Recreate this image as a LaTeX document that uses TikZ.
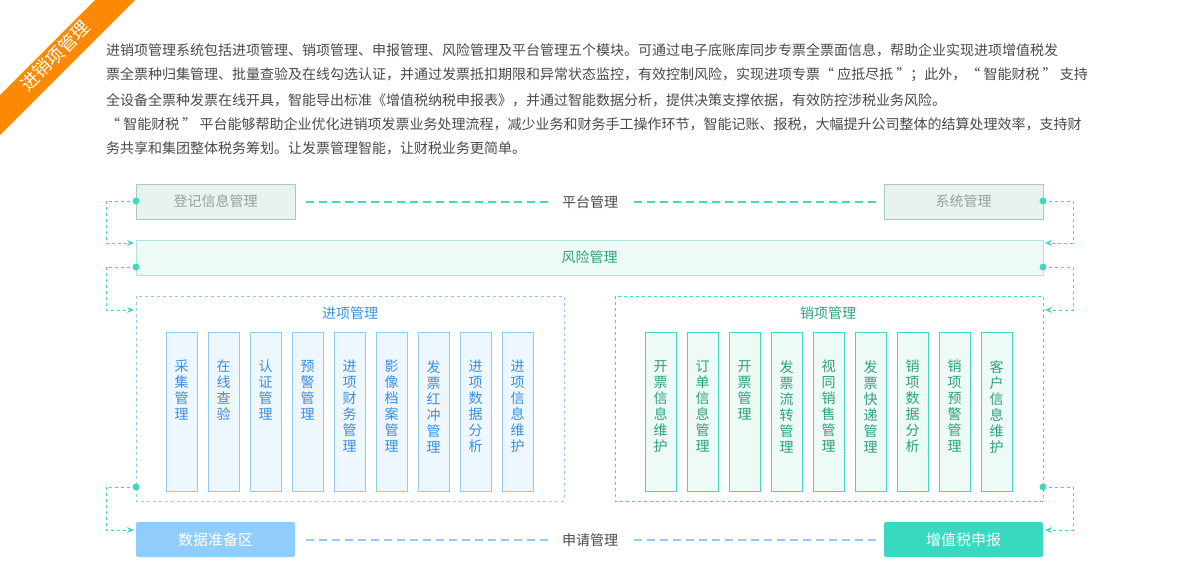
\documentclass[tikz,border=0pt]{standalone}
\usepackage{fontspec}
\setmainfont{Noto Sans CJK SC}
\usepackage{tikz}
\usetikzlibrary{arrows.meta}
\definecolor{linkteal}{HTML}{3DD9C1}
\definecolor{skyline}{HTML}{8FCBF6}
\definecolor{bodytext}{HTML}{4A4A4A}
\definecolor{blueword}{HTML}{3C8FE0}
\definecolor{greenword}{HTML}{2FA07F}
\definecolor{ribbon}{HTML}{FB8903}
\definecolor{greyline}{HTML}{AAC8BE}
\definecolor{greyfill}{HTML}{E8F3F0}
\definecolor{greyword}{HTML}{96A09E}
\definecolor{riskline}{HTML}{B0E8D8}
\definecolor{mintfill}{HTML}{EEFAF6}
\definecolor{icefill}{HTML}{EEF6FE}
\definecolor{prepfill}{HTML}{90CDFC}
\definecolor{vatfill}{HTML}{38D9C0}
\tikzset{
  greybox/.style={draw=greyline, fill=greyfill},
  colin/.style={draw=skyline, fill=icefill},
  colout/.style={draw=linkteal, fill=mintfill},
  coltext/.style={font=\fontsize{14}{16}\selectfont, align=center},
  link/.style={linkteal, dashed, line width=1pt, -{Stealth[length=7pt,width=6pt]}},
  knot/.style={circle, fill=linkteal, inner sep=0pt, minimum size=7pt},
}
\begin{document}
\begin{tikzpicture}[x=1pt, y=-1pt]
    \useasboundingbox[fill=white] (0,0) rectangle (1180,584);
    % Ribbon
    \fill[ribbon] (0,95) -- (95,0) -- (135,0) -- (0,135) -- cycle;
    \node[rotate=45, text=white, inner sep=0pt, font=\fontsize{18}{18}\selectfont] (ribtext) at (55,56) {进销项管理};
    % Paragraph
    \foreach \y/\line in {
      50/{进销项管理系统包括进项管理、销项管理、申报管理、风险管理及平台管理五个模块。可通过电子底账库同步专票全票面信息，帮助企业实现进项增值税发},
      75/{票全票种归集管理、批量查验及在线勾选认证，并通过发票抵扣期限和异常状态监控，有效控制风险，实现进项专票“ 应抵尽抵 ”；此外，“ 智能财税 ” 支持},
      100/{全设备全票种发票在线开具，智能导出标准《增值税纳税申报表》，并通过智能数据分析，提供决策支撑依据，有效防控涉税业务风险。},
      124/{“ 智能财税 ” 平台能够帮助企业优化进销项发票业务处理流程，减少业务和财务手工操作环节，智能记账、报税，大幅提升公司整体的结算处理效率，支持财},
      148/{务共享和集团整体税务筹划。让发票管理智能，让财税业务更简单。}}
      \node[anchor=west, inner sep=0pt, text=bodytext, font=\fontsize{14}{14}\selectfont] at (106,\y) {\line};
    % Platform row
    \draw[greybox] (136,184) rectangle (295,219) node[pos=.5, text=greyword, font=\fontsize{14}{14}\selectfont] (reg) {登记信息管理};
    \draw[greybox] (884,184) rectangle (1043,219) node[pos=.5, text=greyword, font=\fontsize{14}{14}\selectfont] (sys) {系统管理};
    \node[text=bodytext, font=\fontsize{14}{14}\selectfont] (plat) at (590,202) {平台管理};
    \draw[linkteal, line width=2pt, dash pattern=on 8pt off 5pt] (306,202) -- (548,202);
    \draw[linkteal, line width=2pt, dash pattern=on 8pt off 5pt] (634,202) -- (876,202);
    % Risk row
    \draw[draw=riskline, fill=mintfill] (136,240) rectangle (1043,275) node[pos=.5, text=greenword, font=\fontsize{14}{14}\selectfont] (risk) {风险管理};
    % Input module
    \draw[skyline, dashed] (136,296) rectangle (564,501);
    \node[text=blueword, font=\fontsize{14}{14}\selectfont] (inmod) at (350,313) {进项管理};
    \foreach \t [count=\i from 0] in {采\\集\\管\\理, 在\\线\\查\\验, 认\\证\\管\\理, 预\\警\\管\\理, 进\\项\\财\\务\\管\\理, 影\\像\\档\\案\\管\\理, 发\\票\\红\\冲\\管\\理, 进\\项\\数\\据\\分\\析, 进\\项\\信\\息\\维\\护}
      \draw[colin] (166+42*\i,332) rectangle (197+42*\i,491) node[pos=0, anchor=north, xshift=15.5pt, yshift=-28pt, coltext, text=blueword, inner sep=0pt] (in\i) {\t};
    % Output module
    \draw[linkteal, dashed] (615,296) rectangle (1043,501);
    \node[text=greenword, font=\fontsize{14}{14}\selectfont] (outmod) at (828,313) {销项管理};
    \foreach \t [count=\i from 0] in {开\\票\\信\\息\\维\\护, 订\\单\\信\\息\\管\\理, 开\\票\\管\\理, 发\\票\\流\\转\\管\\理, 视\\同\\销\\售\\管\\理, 发\\票\\快\\递\\管\\理, 销\\项\\数\\据\\分\\析, 销\\项\\预\\警\\管\\理, 客\\户\\信\\息\\维\\护}
      \draw[colout] (645+42*\i,332) rectangle (676+42*\i,491) node[pos=0, anchor=north, xshift=15.5pt, yshift=-28pt, coltext, text=greenword, inner sep=0pt] (out\i) {\t};
    % Declaration row
    \fill[prepfill, rounded corners=2pt] (136,522) rectangle (295,557) node[pos=.5, text=white, font=\fontsize{15}{15}\selectfont] (prep) {数据准备区};
    \fill[vatfill, rounded corners=2pt] (884,522) rectangle (1043,557) node[pos=.5, text=white, font=\fontsize{15}{15}\selectfont] (vat) {增值税申报};
    \node[text=bodytext, font=\fontsize{14}{14}\selectfont] (apply) at (590,540) {申请管理};
    \draw[skyline, line width=2pt, dash pattern=on 8pt off 5pt] (306,540) -- (548,540);
    \draw[skyline, line width=2pt, dash pattern=on 8pt off 5pt] (634,540) -- (876,540);
    % Side links
    \foreach \a/\b in {201/243, 267/310, 487/530} {
      \node[knot] (kl\a) at (136,\a) {};
      \node[knot] (kr\a) at (1043,\a) {};
      \draw[link] (kl\a.center) -| (106,\b) -- (134,\b);
      \draw[link] (kr\a.center) -| (1073,\b) -- (1045,\b);
    }
\end{tikzpicture}
\end{document}
